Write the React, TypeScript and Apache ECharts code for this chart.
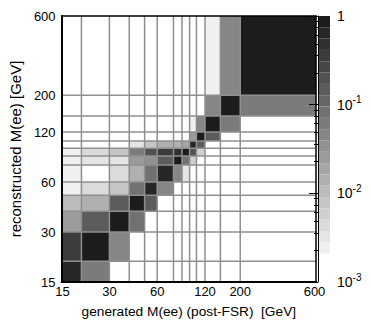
import React, { useEffect, useRef } from 'react';
import * as echarts from 'echarts';

// Bin edges (GeV) shared by generated (x) and reconstructed (y) mass
const massBinEdges = [15, 20, 30, 40, 50, 60, 76, 86, 96, 106, 120, 150, 200, 600];
const axisTickValues = [15, 30, 60, 120, 200, 600];
const colorbarTickValues = [0.001, 0.01, 0.1, 1];

// Response fractions: one array per reconstructed-mass bin, indexed by generated-mass bin (0 = empty)
const reco15to20 = [0.62, 0.061, 0, 0, 0, 0, 0, 0, 0, 0, 0, 0, 0];
const reco20to30 = [0.36, 0.85, 0.046, 0, 0, 0, 0, 0, 0, 0, 0, 0, 0];
const reco30to40 = [0.024, 0.148, 0.85, 0.082, 0, 0, 0, 0, 0, 0, 0, 0, 0];
const reco40to50 = [0.0105, 0.014, 0.148, 0.85, 0.148, 0, 0, 0, 0, 0, 0, 0, 0];
const reco50to60 = [0.0024, 0.0044, 0.0078, 0.082, 0.62, 0.046, 0, 0, 0, 0, 0, 0, 0];
const reco60to76 = [0.0024, 0, 0.0044, 0.014, 0.082, 0.62, 0.046, 0.0032, 0, 0, 0, 0, 0];
const reco76to86 = [0.0024, 0.0035, 0.0035, 0.024, 0.034, 0.148, 0.85, 0.082, 0.0058, 0, 0, 0, 0];
const reco86to96 = [0.0024, 0.0044, 0.0078, 0.061, 0.2, 0.33, 0.5, 0.85, 0.18, 0.0058, 0, 0, 0];
const reco96to106 = [0, 0, 0, 0.0035, 0.0078, 0.014, 0.014, 0.019, 0.62, 0.17, 0, 0, 0];
const reco106to120 = [0, 0, 0, 0, 0, 0, 0, 0, 0.024, 0.85, 0.148, 0, 0];
const reco120to150 = [0, 0, 0, 0, 0, 0, 0, 0, 0.0024, 0.046, 0.85, 0.061, 0];
const reco150to200 = [0, 0, 0, 0, 0, 0, 0, 0, 0, 0, 0.046, 0.85, 0.061];
const reco200to600 = [0, 0, 0, 0, 0, 0, 0, 0, 0, 0, 0.0024, 0.046, 0.85];

const responseRows = [
  reco15to20, reco20to30, reco30to40, reco40to50, reco50to60, reco60to76, reco76to86,
  reco86to96, reco96to106, reco106to120, reco120to150, reco150to200, reco200to600,
];

const xTitle = 'generated M(ee) (post-FSR)  [GeV]';
const yTitle = 'reconstructed M(ee) [GeV]';

// Gray palette (log z): white below floor, then equal log-width steps up to 1
const paletteFloorExp = -2.68;
const paletteSteps = 21;

export default function App() {
  const ref = useRef<HTMLDivElement>(null);

  useEffect(() => {
    if (!ref.current) return;
    const chart = echarts.init(ref.current, undefined, { renderer: 'svg' });

    const stepExp = -paletteFloorExp / paletteSteps;
    const pieces: any[] = [{ lt: Math.pow(10, paletteFloorExp), color: '#ffffff' }];
    for (let i = 0; i < paletteSteps; i++) {
      const g = Math.round(240 - (i * (240 - 28)) / (paletteSteps - 1));
      const piece: any = { gte: Math.pow(10, paletteFloorExp + i * stepExp), color: `rgb(${g},${g},${g})` };
      if (i < paletteSteps - 1) piece.lt = Math.pow(10, paletteFloorExp + (i + 1) * stepExp);
      pieces.push(piece);
    }

    const cellData: number[][] = [];
    responseRows.forEach((row, r) => {
      row.forEach((v, c) => {
        if (v > 0) cellData.push([massBinEdges[c], massBinEdges[c + 1], massBinEdges[r], massBinEdges[r + 1], v]);
      });
    });

    const bandData: number[][] = [[0, 1, 0.001, Math.pow(10, paletteFloorExp), Math.pow(10, -2.84)]];
    for (let i = 0; i < paletteSteps; i++) {
      const lo = paletteFloorExp + i * stepExp;
      const hi = lo + stepExp;
      bandData.push([0, 1, Math.pow(10, lo), Math.pow(10, hi), Math.pow(10, (lo + hi) / 2)]);
    }

    const innerEdges = massBinEdges.slice(1, -1).map((e) => [e]);
    const xMin = massBinEdges[0];
    const xMax = massBinEdges[massBinEdges.length - 1];

    const font = 'Liberation Sans, Arial, Helvetica, sans-serif';
    const labelShift: Record<string, number> = { '15': 2, '600': -3 };

    const rectRender = (params: any, api: any) => {
      const p0 = api.coord([api.value(0), api.value(2)]);
      const p1 = api.coord([api.value(1), api.value(3)]);
      return {
        type: 'rect',
        shape: { x: p0[0], y: p1[1], width: p1[0] - p0[0], height: p0[1] - p1[1] },
        style: { fill: api.visual('color'), stroke: null },
      };
    };

    const option: any = {
      animation: false,
      backgroundColor: '#ffffff',
      grid: [
        { left: 55, top: 16, width: 261, height: 266, show: false },
        { left: 318, top: 16, width: 12, height: 266, show: false },
      ],
      xAxis: [
        {
          type: 'log', gridIndex: 0, min: xMin, max: xMax, position: 'bottom', z: 10,
          axisLine: { show: true, lineStyle: { color: '#000', width: 2 } },
          axisTick: { show: false },
          splitLine: { show: false },
          axisLabel: {
            customValues: axisTickValues, color: '#000', fontSize: 13, fontFamily: font, margin: 3,
            formatter: (v: number) => {
              const s = String(Math.round(v));
              return labelShift[s] ? `{s${s}|${s}}` : s;
            },
            rich: {
              s15: { fontSize: 13, fontFamily: font, color: '#000', padding: [0, 0, 0, 2] },
              s600: { fontSize: 13, fontFamily: font, color: '#000', padding: [0, 3, 0, 0] },
            },
          },
          name: xTitle, nameLocation: 'middle', nameGap: 22,
          nameTextStyle: { color: '#000', fontSize: 13.7, fontFamily: font },
        },
        {
          type: 'log', gridIndex: 0, min: xMin, max: xMax, position: 'top', z: 10,
          axisLine: { show: true, lineStyle: { color: '#000', width: 1.5 } },
          axisTick: { show: false }, axisLabel: { show: false }, splitLine: { show: false },
        },
        {
          type: 'value', gridIndex: 1, min: 0, max: 1, show: false,
        },
      ],
      yAxis: [
        {
          type: 'log', gridIndex: 0, min: xMin, max: xMax, position: 'left', z: 10,
          axisLine: { show: true, lineStyle: { color: '#000', width: 2 } },
          axisTick: { show: false },
          splitLine: { show: false },
          axisLabel: {
            customValues: axisTickValues, color: '#000', fontSize: 13, fontFamily: font, margin: 6,
            formatter: (v: number) => String(Math.round(v)),
          },
          name: yTitle, nameLocation: 'middle', nameGap: 34, nameRotate: 90,
          nameTextStyle: { color: '#000', fontSize: 15, fontFamily: font },
        },
        {
          type: 'log', gridIndex: 0, min: xMin, max: xMax, position: 'right', z: 10,
          axisLine: { show: true, lineStyle: { color: '#000', width: 1.5 } },
          axisTick: { show: false }, axisLabel: { show: false }, splitLine: { show: false },
        },
        {
          type: 'log', gridIndex: 1, min: 0.001, max: 1, position: 'right', z: 10,
          axisLine: { show: true, lineStyle: { color: '#000', width: 1 } },
          axisTick: { show: true, inside: true, length: 9, customValues: colorbarTickValues, lineStyle: { color: '#000' } },
          minorTick: { show: true, splitNumber: 7, length: 4, lineStyle: { color: '#000' } },
          splitLine: { show: false },
          axisLabel: {
            customValues: colorbarTickValues, color: '#000', fontSize: 14, fontFamily: font, margin: 7, lineHeight: 20,
            formatter: (v: number) => {
              const e = Math.round(Math.log10(v));
              return e === 0 ? '1' : `10{sup|${e}}`;
            },
            rich: { sup: { fontSize: 10, fontFamily: font, color: '#000', verticalAlign: 'top', lineHeight: 10 } },
          },
        },
      ],
      visualMap: {
        type: 'piecewise', show: false, dimension: 4, seriesIndex: [0, 2], pieces,
      },
      series: [
        {
          type: 'custom', xAxisIndex: 0, yAxisIndex: 0, z: 1,
          encode: { x: [0, 1], y: [2, 3] },
          renderItem: rectRender,
          data: cellData,
        },
        {
          type: 'custom', xAxisIndex: 0, yAxisIndex: 0, z: 3,
          encode: { x: 0, y: 0 },
          renderItem: (params: any, api: any) => {
            const e = api.value(0);
            const a = api.coord([e, xMin]);
            const b = api.coord([e, xMax]);
            const c = api.coord([xMin, e]);
            const d = api.coord([xMax, e]);
            const st = { stroke: '#8f8f8f', lineWidth: 1.5 };
            return {
              type: 'group',
              children: [
                { type: 'line', shape: { x1: a[0], y1: a[1], x2: b[0], y2: b[1] }, style: st },
                { type: 'line', shape: { x1: c[0], y1: c[1], x2: d[0], y2: d[1] }, style: st },
              ],
            };
          },
          data: innerEdges,
        },
        {
          type: 'custom', xAxisIndex: 2, yAxisIndex: 2, z: 1,
          encode: { x: [0, 1], y: [2, 3] },
          renderItem: rectRender,
          data: bandData,
        },
      ],
    };

    chart.setOption(option);
    return () => chart.dispose();
  }, []);

  return (
    <div
      ref={ref}
      style={{ position: 'fixed', left: 0, top: 0, width: 371, height: 331, background: '#fff' }}
    />
  );
}
